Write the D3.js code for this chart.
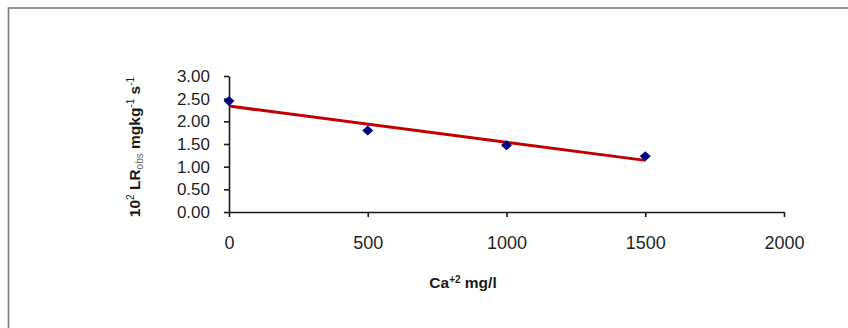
<!DOCTYPE html>
<html>
<head>
<meta charset="utf-8">
<script src="https://cdn.jsdelivr.net/npm/d3@7"></script>
<style>
  body { margin: 0; background: #fff; }
  svg { display: block; font-family: "Liberation Sans", Arial, sans-serif; }
</style>
</head>
<body>
<div id="chart"></div>
<script>
// data
var calcium = [0, 500, 1000, 1500];          // Ca+2 mg/l
var rate = [2.45, 1.80, 1.47, 1.23];          // 10^2 LR obs
var xTicks = [0, 500, 1000, 1500, 2000];
var yTicks = [0, 0.5, 1, 1.5, 2, 2.5, 3];

var points = calcium.map(function (c, i) { return {x: c, y: rate[i]}; });

var width = 848, height = 328;

var svg = d3.select("#chart").append("svg")
    .attr("width", width)
    .attr("height", height);

// outer frame (runs off the right and bottom edges)
svg.append("rect")
    .attr("x", 8.5)
    .attr("y", 8)
    .attr("width", 860)
    .attr("height", 340)
    .attr("fill", "none")
    .attr("stroke", "#7a7a7a")
    .attr("stroke-width", 1.6);

var x = d3.scaleLinear().domain([0, 2000]).range([229, 784]);
var y = d3.scaleLinear().domain([0, 3]).range([212, 76]);

// x axis
var gx = svg.append("g")
    .attr("transform", "translate(0," + y(0) + ")")
    .call(d3.axisBottom(x).tickValues(xTicks).tickSize(5).tickSizeOuter(0).tickPadding(19)
        .tickFormat(d3.format("d")));

// y axis
var gy = svg.append("g")
    .attr("transform", "translate(" + x(0) + ",0)")
    .call(d3.axisLeft(y).tickValues(yTicks).tickSize(5).tickSizeOuter(0).tickPadding(14)
        .tickFormat(d3.format(".2f")));

[gx, gy].forEach(function (g) {
    g.select(".domain").attr("stroke", "#1a1a1a").attr("stroke-width", 1.6);
    g.selectAll(".tick line").attr("stroke", "#1a1a1a").attr("stroke-width", 1.6);
    g.selectAll(".tick text")
        .attr("fill", "#1f1f1f")
        .style("font-family", "'Liberation Sans', Arial, sans-serif");
});
gx.selectAll(".tick text").style("font-size", "18px");
gy.selectAll(".tick text").style("font-size", "17px");

// linear trend line (least squares on the points)
var mx = d3.mean(calcium), my = d3.mean(rate);
var sxy = d3.sum(points, function (d) { return (d.x - mx) * (d.y - my); });
var sxx = d3.sum(points, function (d) { return (d.x - mx) * (d.x - mx); });
var slope = sxy / sxx, intercept = my - slope * mx;
var xExt = d3.extent(calcium);

svg.append("line")
    .attr("x1", x(xExt[0]))
    .attr("y1", y(intercept + slope * xExt[0]))
    .attr("x2", x(xExt[1]))
    .attr("y2", y(intercept + slope * xExt[1]))
    .attr("stroke", "#c00000")
    .attr("stroke-width", 3);

// markers
svg.selectAll(".pt")
    .data(points)
    .enter()
    .append("path")
    .attr("class", "pt")
    .attr("transform", function (d) { return "translate(" + x(d.x) + "," + y(d.y) + ")"; })
    .attr("d", "M0,-5L5.5,0L0,5L-5.5,0Z")
    .attr("fill", "#000080");

// x label
var xl = svg.append("text")
    .attr("x", 463)
    .attr("y", 288)
    .attr("text-anchor", "middle")
    .attr("fill", "#1a1a1a")
    .style("font-size", "15.5px")
    .style("font-weight", "bold");
xl.append("tspan").text("Ca");
xl.append("tspan").attr("dy", -5).style("font-size", "10px").text("+2");
xl.append("tspan").attr("dy", 5).text(" mg/l");

// y label
var yl = svg.append("text")
    .attr("transform", "translate(140,147) rotate(-90)")
    .attr("text-anchor", "middle")
    .attr("fill", "#1a1a1a")
    .style("font-size", "15.5px")
    .style("font-weight", "bold");
yl.append("tspan").text("10");
yl.append("tspan").attr("dy", -6).style("font-size", "10px").style("font-weight", "normal").text("2");
yl.append("tspan").attr("dy", 6).text(" LR");
yl.append("tspan").attr("dy", 3).style("font-size", "10px").style("font-weight", "normal")
    .attr("fill", "#666").text("obs");
yl.append("tspan").attr("dy", -3).text(" mgkg");
yl.append("tspan").attr("dy", -6).style("font-size", "10px").style("font-weight", "normal").text("-1");
yl.append("tspan").attr("dy", 6).text(" s");
yl.append("tspan").attr("dy", -6).style("font-size", "10px").style("font-weight", "normal").text("-1");
</script>
</body>
</html>
